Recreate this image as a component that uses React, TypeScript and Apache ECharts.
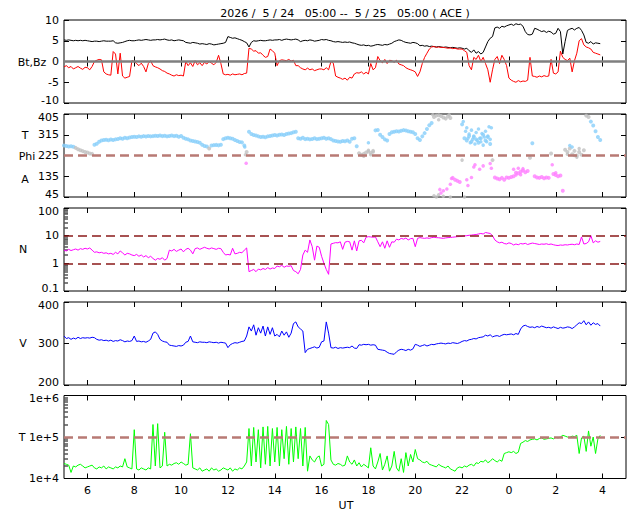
import React, { useEffect, useRef } from 'react';
import * as echarts from 'echarts';

// ---- time base: one sample every 0.1 h starting at 05:00 UT on 5/24 ----
const START_HOUR = 5;
const STEP_HOURS = 0.1;
const xTicks = [6, 8, 10, 12, 14, 16, 18, 20, 22, 24, 26, 28];

const titleText = '2026 /  5 / 24   05:00 --  5 / 25   05:00 ( ACE )';

// ---- Bt (nT) ----
const btValues = [
  5.2, 5.1, 5.2, 5.1, 5.0, 5.1, 5.0, 5.1, 5.0, 5.1,
  5.0, 4.9, 4.8, 4.9, 4.9, 4.8, 4.9, 5.0, 4.9, 4.9,
  4.9, 5.0, 4.5, 4.4, 4.5, 4.6, 4.8, 5.0, 5.1, 5.0,
  5.0, 5.1, 5.2, 5.1, 5.2, 5.3, 5.2, 5.1, 5.2, 5.2,
  5.3, 5.2, 5.3, 5.4, 5.2, 5.1, 5.2, 5.0, 5.1, 5.2,
  5.1, 5.0, 4.6, 4.5, 4.4, 4.6, 4.5, 4.4, 4.2, 4.3,
  4.2, 4.1, 4.3, 4.2, 4.0, 4.1, 4.2, 4.3, 4.4, 4.6,
  6.0, 5.8, 5.6, 5.7, 5.5, 5.3, 5.1, 4.8, 4.5, 3.5,
  4.6, 5.0, 4.9, 5.0, 5.1, 5.0, 5.0, 5.1, 5.2, 5.1,
  5.2, 5.2, 5.3, 5.1, 5.3, 5.4, 5.3, 5.2, 5.3, 5.4,
  5.2, 4.8, 5.0, 5.1, 5.0, 5.2, 5.1, 4.9, 5.0, 5.1,
  5.3, 5.2, 5.3, 5.1, 5.0, 4.8, 4.7, 4.8, 4.7, 4.6,
  4.7, 4.6, 4.7, 4.5, 4.4, 4.2, 4.0, 3.9, 4.0, 3.8,
  3.9, 3.7, 3.8, 4.0, 4.1, 4.0, 3.9, 4.1, 4.0, 4.2,
  4.4, 4.8, 5.0, 5.2, 5.1, 4.8, 4.6, 4.5, 4.4, 4.6,
  4.5, 4.3, 3.8, 3.9, 3.7, 3.8, 3.6, 3.7, 3.6, 3.5,
  3.6, 3.5, 3.4, 3.5, 3.4, 3.3, 3.4, 3.3, 3.2, 3.3,
  3.2, 3.0, 3.2, 2.6, 2.2, 2.8, 2.0, 2.4, 1.8, 2.2,
  3.5, 4.8, 5.6, 6.0, 8.1, 8.3, 8.0, 8.5, 8.3, 8.6,
  8.8, 9.0, 8.7, 9.1, 8.9, 9.0, 8.5, 7.2, 6.5, 6.4,
  6.6, 8.0, 7.8, 7.5, 7.2, 7.4, 7.0, 7.3, 7.1, 6.6,
  6.8, 8.0, 7.2, 1.8, 4.8, 7.5, 7.8, 8.0, 7.6, 8.0,
  8.2, 7.5, 6.4, 4.6, 4.4, 4.8, 4.2, 4.5, 4.4, 4.3,
];

// ---- Bz (nT) ----
const bzValues = [
  -1.3, -1.0, -1.5, -1.2, -1.8, -1.5, -1.2, -1.6, -1.9, -1.4,
  -1.5, -2.0, -1.2, 0.0, 0.3, 0.5, 0.4, -2.5, -3.0, -3.2,
  -3.3, 2.4, 1.8, -3.0, 2.0, -3.5, -4.0, -3.8, -3.6, 0.2,
  0.0, -0.5, -1.0, -0.4, -1.2, -2.5, -0.5, 0.2, -1.0, -1.3,
  -1.5, -1.8, -2.2, -2.4, -2.8, -3.0, -3.3, -3.5, -3.2, -3.4,
  -3.3, -3.5, 0.0, -1.0, -0.3, -1.2, 0.2, -0.8, -0.3, -1.0,
  -0.2, -0.6, 0.0, -0.4, -0.8, -0.2, 1.5, -0.5, -3.0, -3.2,
  -3.1, -3.3, -3.0, -3.2, -3.1, -3.0, -3.2, -2.9, -2.8, 3.2,
  3.0, 2.5, 2.6, 2.0, 2.1, 1.5, 1.0, 1.2, 3.0, 2.6,
  2.0, -1.0, 0.2, 0.4, 0.3, 0.2, 0.5, 0.1, 0.3, -1.0,
  -1.0, -1.5, -1.8, -2.0, -1.6, -2.0, -1.8, -2.2, -2.0, -1.8,
  -1.8, -2.0, -1.5, -2.0, 0.0, -0.4, -3.5, -3.8, -4.0, -4.3,
  -4.0, -4.5, -3.8, -4.0, -3.0, -2.7, -2.8, -2.5, -3.0, -2.6,
  -3.0, -0.5, -2.0, -1.5, 1.2, 0.2, -0.3, 0.5, -0.5, 0.3,
  0.2, -0.2, 0.3, -0.6, -0.8, -1.0, -1.5, -1.8, -2.0, -2.2,
  -2.5, -3.6, -2.5, -0.5, 1.0, 2.0, 3.0, 3.5, 3.6, 3.4,
  3.5, 3.4, 3.4, 3.3, 3.2, 3.3, 3.1, 3.2, 3.0, 3.0,
  3.0, 2.6, 2.2, -1.0, -2.0, 1.0, 0.5, 1.5, 0.0, 1.0,
  -0.5, -2.0, -5.0, -2.0, 0.5, 1.2, -0.5, 1.5, 0.5, -1.0,
  -4.0, -4.5, -4.8, -5.0, -4.6, -4.9, -4.7, -4.8, -4.5, 1.0,
  -3.5, -3.6, -3.8, -3.5, -3.7, -3.4, -3.6, -3.5, 0.5, -2.8,
  -3.0, -2.5, 2.5, 1.0, 0.5, 0.2, 0.8, -2.5, 0.2, 2.0,
  5.0, 5.5, 4.0, 3.5, 3.3, 3.0, 2.2, 2.0, 1.8, 1.6,
];

// ---- Phi (deg), main track ----
const phiValues = [
  268, 266, 264, 265, 263, 258, 252, 248, 244, 240,
  238, 234, 232, 272, 276, 285, 290, 292, 293, 291,
  294, 292, 295, 297, 300, 298, 302, 300, 303, 305,
  306, 305, 308, 306, 309, 307, 310, 308, 309, 311,
  310, 312, 309, 311, 308, 310, 312, 309, 311, 306,
  310, 302, 298, 295, 290, 288, 286, 284, 280, 272,
  266, 264, 255, 268, 270, 271, 269, 272, 296, 300,
  302, 300, 298, 292, 288, 284, 282, 268, 240, 328,
  318, 314, 312, 308, 305, 306, 304, 308, 310, 312,
  314, 312, 315, 316, 314, 318, 320, 322, 326, 328,
  300, 298, 302, 296, 298, 295, 297, 300, 296, 298,
  300, 302, 298, 300, 296, 290, 288, 286, 285, 288,
  287, 290, 285, 298, 300, 265, 235, 228, 232, 238,
  242, 236, 245, 334, 336, 315, 305, 295, 290, 318,
  326, 328, 330, 329, 332, 335, 333, 330, 328, 326,
  318, 300, 292, 308, 322, 340, 356, 366, 392, 398,
  400, 396, 390, 385, 395, 388, 128, 120, 115, 110,
  360, 300, 290, 310, 285, 305, 295, 280, 300, 315,
  290, 305, 275, 205, 130, 125, 122, 128, 120, 130,
  128, 132, 135, 150, 148, 155, 160, 152, 158, 215,
  278, 135, 130, 128, 132, 126, 130, 128, 234, 145,
  140, 135, 138, 72, 250, 240, 255, 230, 245, 225,
  240, 228, 248, 398, 392, 372, 355, 330, 305, 292,
];

// ---- Phi (deg), scattered extra samples [hour, deg] ----
const phiExtra = [
  [12.72, 262], [12.75, 228], [12.78, 191],
  [17.8, 222], [18.0, 248], [18.1, 228], [18.2, 240], [18.0, 280],
  [20.75, 402], [21.0, 380], [21.45, 402],
  [20.8, 50], [20.9, 45], [21.0, 55], [21.1, 62], [21.2, 48], [21.3, 40], [21.5, 45], [22.1, 45],
  [21.05, 78], [21.2, 72], [21.35, 80], [21.5, 100], [21.55, 125],
  [22.05, 372], [22.15, 330], [22.2, 345], [22.25, 300], [22.3, 318], [22.35, 280], [22.4, 335],
  [22.45, 295], [22.5, 310], [22.55, 275], [22.6, 325], [22.65, 290], [22.7, 340], [22.75, 300],
  [22.8, 285], [22.85, 320], [22.9, 270], [22.95, 305], [23.0, 330], [23.05, 285], [23.1, 310],
  [23.15, 350], [23.2, 295], [23.25, 345],
  [22.2, 120], [22.25, 95], [22.4, 130], [22.5, 175], [22.55, 185], [22.75, 165], [22.9, 180],
  [23.2, 190], [23.25, 170], [22.0, 205],
  [24.2, 165], [24.3, 140], [24.4, 170], [24.5, 142], [24.6, 168],
  [25.85, 185], [26.0, 150], [26.6, 268],
  [26.5, 230], [26.7, 262], [26.8, 225], [26.9, 218], [27.0, 255], [27.35, 44],
];

// ---- N (p/cc) ----
const nValues = [
  3.0, 2.8, 3.2, 2.9, 3.1, 3.3, 3.0, 3.4, 3.2, 3.5,
  3.3, 3.6, 3.0, 2.5, 2.6, 2.4, 2.5, 2.3, 2.4, 2.2,
  2.3, 2.1, 2.5, 2.2, 2.8, 2.4, 2.0, 2.3, 2.2, 2.0,
  1.9, 2.1, 1.8, 2.0, 1.7, 1.9, 1.6, 1.8, 1.5, 1.3,
  1.5, 1.4, 1.6, 1.3, 1.5, 3.0, 2.8, 3.2, 2.7, 3.0,
  3.3, 2.6, 3.2, 3.5, 3.0, 2.2, 3.4, 3.6, 3.2, 3.5,
  3.8, 3.5, 3.3, 3.6, 3.4, 3.2, 3.5, 3.4, 2.5, 2.0,
  2.1, 2.0, 3.5, 2.2, 2.3, 2.5, 2.4, 3.0, 3.6, 0.5,
  0.55, 0.6, 0.5, 0.62, 0.58, 0.65, 0.6, 0.7, 0.62, 0.68,
  0.65, 0.8, 0.75, 0.85, 0.72, 0.8, 0.78, 0.82, 0.55, 0.5,
  0.42, 0.6, 2.0, 3.0, 2.5, 7.0, 4.0, 1.3, 4.2, 3.8,
  1.8, 1.0, 0.6, 0.4, 5.0, 5.3, 5.6, 5.5, 6.0, 3.2,
  5.8, 6.2, 6.0, 3.0, 6.5, 2.8, 6.5, 6.8, 5.5, 8.8,
  9.2, 9.0, 8.8, 9.0, 6.0, 4.0, 6.0, 3.5, 6.5, 3.8,
  6.0, 5.8, 7.5, 7.0, 8.0, 7.5, 8.2, 7.0, 7.8, 8.0,
  4.0, 8.0, 8.5, 8.2, 8.0, 8.3, 8.0, 8.5, 8.8, 8.5,
  8.4, 8.2, 8.0, 8.3, 8.5, 8.6, 8.8, 9.0, 9.2, 9.3,
  9.5, 9.8, 10.0, 10.3, 10.5, 10.8, 11.0, 11.5, 12.0, 11.5,
  13.0, 12.5, 12.0, 10.0, 7.0, 6.0, 5.5, 5.8, 5.2, 5.0,
  5.5, 5.2, 4.6, 5.0, 4.7, 5.2, 5.0, 5.3, 4.8, 5.1,
  5.4, 5.2, 5.0, 4.8, 5.0, 4.9, 5.1, 4.8, 5.0, 4.7,
  4.5, 4.4, 4.6, 4.5, 4.7, 4.6, 4.8, 4.9, 4.7, 5.0,
  4.8, 9.0, 5.0, 5.2, 6.0, 10.0, 5.5, 6.5, 5.8, 6.2,
];

// ---- V (km/s) ----
const vValues = [
  318, 312, 314, 310, 313, 311, 315, 312, 314, 313,
  314, 313, 315, 314, 310, 308, 309, 307, 308, 306,
  308, 305, 307, 306, 309, 307, 304, 306, 305, 307,
  318, 305, 306, 304, 305, 303, 306, 310, 325, 328,
  322, 310, 306, 304, 303, 296, 295, 294, 293, 295,
  294, 296, 303, 305, 318, 304, 303, 302, 304, 303,
  303, 302, 304, 303, 302, 303, 301, 303, 302, 301,
  290, 297, 300, 302, 301, 303, 305, 306, 318, 340,
  330, 345, 320, 338, 325, 342, 318, 340, 322, 338,
  318, 322, 316, 330, 320, 328, 315, 325, 348, 352,
  340, 335, 330, 278, 286, 288, 290, 292, 289, 291,
  304, 306, 352, 325, 290, 289, 291, 288, 290, 289,
  290, 291, 290, 294, 289, 288, 297, 296, 298, 297,
  298, 296, 297, 296, 286, 285, 284, 283, 279, 276,
  275, 274, 280, 284, 286, 285, 283, 286, 284, 287,
  298, 296, 293, 295, 297, 294, 296, 298, 297, 299,
  300, 301, 300, 299, 301, 300, 302, 301, 300, 302,
  305, 307, 306, 309, 310, 312, 311, 314, 315, 316,
  320, 318, 321, 316, 318, 319, 317, 320, 322, 321,
  322, 323, 321, 324, 322, 335, 342, 344, 341, 339,
  340, 338, 341, 339, 342, 340, 338, 339, 337, 340,
  338, 336, 339, 337, 338, 340, 339, 336, 340, 345,
  350, 348, 355, 345, 352, 344, 350, 346, 348, 342,
];

// ---- T (K) ----
const tValues = [
  23000, 22000, 21000, 14000, 20000, 19000, 21000, 22000, 20000, 18000,
  19000, 20000, 21000, 18000, 17000, 19000, 18000, 20000, 17000, 19000,
  18000, 17000, 19000, 18000, 20000, 19000, 30000, 19000, 18000, 17000,
  150000, 17000, 16000, 18000, 17000, 16000, 18000, 17000, 200000, 20000,
  210000, 18000, 20000, 130000, 20000, 22000, 21000, 23000, 24000, 22000,
  25000, 23000, 21000, 22000, 120000, 18000, 17000, 16000, 18000, 15000,
  16000, 17000, 15000, 18000, 16000, 17000, 15000, 16000, 18000, 17000,
  16000, 18000, 15000, 17000, 16000, 18000, 17000, 20000, 25000, 160000,
  20000, 170000, 25000, 150000, 18000, 175000, 22000, 180000, 20000, 160000,
  25000, 170000, 20000, 150000, 30000, 180000, 22000, 160000, 25000, 175000,
  30000, 160000, 20000, 170000, 15000, 35000, 28000, 25000, 32000, 35000,
  20000, 22000, 250000, 200000, 28000, 22000, 21000, 23000, 22000, 20000,
  21000, 35000, 25000, 22000, 28000, 20000, 24000, 19000, 22000, 20000,
  18000, 55000, 20000, 17000, 25000, 40000, 16000, 22000, 35000, 15000,
  20000, 45000, 18000, 15000, 30000, 14000, 42000, 20000, 38000, 25000,
  50000, 30000, 28000, 25000, 24000, 26000, 22000, 21000, 20000, 19000,
  22000, 20000, 19000, 18000, 20000, 17000, 16000, 15000, 18000, 19000,
  18000, 20000, 19000, 21000, 22000, 20000, 24000, 23000, 26000, 25000,
  28000, 24000, 26000, 30000, 27000, 25000, 28000, 26000, 40000, 42000,
  44000, 42000, 45000, 40000, 43000, 70000, 75000, 82000, 78000, 85000,
  88000, 90000, 85000, 92000, 95000, 88000, 90000, 93000, 95000, 90000,
  98000, 95000, 100000, 110000, 105000, 100000, 98000, 105000, 102000, 110000,
  40000, 95000, 105000, 45000, 140000, 60000, 100000, 40000, 90000, 110000,
];

// ---- axis tick values ----
const phiTicks = [45, 135, 225, 315, 405];
const nMinorTicks = [0.2, 0.3, 0.4, 0.5, 0.6, 0.7, 0.8, 0.9, 2, 3, 4, 5, 6, 7, 8, 9, 20, 30, 40, 50, 60, 70, 80, 90];
const tMinorTicks = [20000, 30000, 40000, 50000, 60000, 70000, 80000, 90000, 200000, 300000, 400000, 500000, 600000, 700000, 800000, 900000];

const FONT = 'DejaVu Sans';
const GRID_TOPS = [20, 114, 208, 302, 395.5];
const GRID_H = 83;

const hourOf = (i: number) => Math.round((START_HOUR + i * STEP_HOURS) * 10) / 10;
const toPairs = (vals: (number | null)[]) => vals.map((v, i) => [hourOf(i), v]);

function buildOption(): any {
  const grids = GRID_TOPS.map((top) => ({
    left: 64, right: 14, top, height: GRID_H,
    show: true, borderColor: '#000', borderWidth: 1, backgroundColor: 'transparent',
  }));

  const xBase = (gi: number, pos: 'bottom' | 'top', labels: boolean) => ({
    gridIndex: gi, type: 'value', position: pos, min: 5, max: 29,
    axisLine: { show: false },
    splitLine: { show: false },
    axisTick: { show: true, inside: true, length: 5, customValues: xTicks, lineStyle: { color: '#000', width: 1 } },
    axisLabel: {
      show: labels, customValues: xTicks, margin: 6, color: '#000', fontFamily: FONT, fontSize: 11,
      formatter: (v: number) => String(v % 24),
    },
  });
  const xAxes: any[] = [];
  for (let i = 0; i < 5; i++) xAxes.push(xBase(i, 'bottom', i === 4));
  for (let i = 0; i < 5; i++) xAxes.push(xBase(i, 'top', false));

  const baseText = { color: '#000', fontFamily: FONT, fontSize: 11 };
  // labels at shared panel edges are nudged apart a little so they do not collide
  const rich = {
    lo: { ...baseText, padding: [0, 0, 6, 0] },
    hi: { ...baseText, padding: [6, 0, 0, 0] },
  };
  const labelStyle = { ...baseText, margin: 5, rich };
  const tickStyle = { show: true, inside: true, length: 5, lineStyle: { color: '#000', width: 1 } };

  const wrap = (s: string, v: number, d: any) => {
    if (v === d.min && d.nudgeMin) return `{lo|${s}}`;
    if (v === d.max && d.nudgeMax) return `{hi|${s}}`;
    return s;
  };

  const yDefs: any[] = [
    { type: 'value', min: -10, max: 10, interval: 5, nudgeMin: true, nudgeMax: false, fmt: (v: number) => String(v) },
    { type: 'value', min: 45, max: 405, ticks: phiTicks, nudgeMin: true, nudgeMax: true, fmt: (v: number) => String(v) },
    { type: 'log', logBase: 10, min: 0.1, max: 100, nudgeMin: true, nudgeMax: true, fmt: (v: number) => (v < 1 ? String(v) : String(Math.round(v))) },
    { type: 'value', min: 200, max: 400, interval: 100, nudgeMin: true, nudgeMax: true, fmt: (v: number) => String(v) },
    { type: 'log', logBase: 10, min: 10000, max: 1000000, nudgeMin: false, nudgeMax: true, fmt: (v: number) => '1e+' + Math.round(Math.log10(v)) },
  ];

  const mkY = (gi: number, pos: 'left' | 'right', labels: boolean) => {
    const d = yDefs[gi];
    const ax: any = {
      gridIndex: gi, type: d.type, position: pos, min: d.min, max: d.max,
      axisLine: { show: false }, splitLine: { show: false },
      axisTick: { ...tickStyle },
      axisLabel: { ...labelStyle, show: labels, formatter: (v: number) => wrap(d.fmt(v), v, d) },
    };
    if (d.logBase) ax.logBase = d.logBase;
    if (d.interval) ax.interval = d.interval;
    if (d.ticks) {
      ax.axisTick.customValues = d.ticks;
      ax.axisLabel.customValues = d.ticks;
    }
    return ax;
  };
  const yAxes: any[] = [];
  for (let i = 0; i < 5; i++) yAxes.push(mkY(i, 'left', true)); // 0..4
  for (let i = 0; i < 5; i++) yAxes.push(mkY(i, 'right', false)); // 5..9
  const minorAxis = (gi: number, vals: number[]) => ({
    gridIndex: gi, type: 'log', logBase: 10, position: 'left', min: yDefs[gi].min, max: yDefs[gi].max,
    axisLine: { show: false }, splitLine: { show: false }, axisLabel: { show: false },
    axisTick: { show: true, inside: true, length: 4, customValues: vals, lineStyle: { color: '#555', width: 1.5 } },
  });
  yAxes.push(minorAxis(2, nMinorTicks)); // 10
  yAxes.push(minorAxis(4, tMinorTicks)); // 11

  const line = (gi: number, data: any[], color: string, extra: any = {}) => ({
    type: 'line', xAxisIndex: gi, yAxisIndex: gi, data, showSymbol: false, symbol: 'none',
    lineStyle: { color, width: 1 }, itemStyle: { color }, silent: true, animation: false, ...extra,
  });
  const markLine = (vals: number[], color: string, width: number, type: any) => ({
    silent: true, symbol: ['none', 'none'], label: { show: false }, animation: false,
    lineStyle: { color, width, type },
    data: vals.map((v) => ({ yAxis: v })),
  });

  const phiMain = toPairs(phiValues).filter((p) => p[1] != null);

  const series: any[] = [
    line(0, toPairs(btValues), '#000000', { markLine: markLine([0], '#7f7f7f', 2.5, 'solid') }),
    line(0, toPairs(bzValues), '#ff0000'),
    {
      type: 'scatter', xAxisIndex: 1, yAxisIndex: 1, data: phiMain, symbol: 'circle', symbolSize: 4,
      silent: true, animation: false,
      markLine: markLine([225], '#b87a74', 2.5, [9, 5]),
    },
    {
      type: 'scatter', xAxisIndex: 1, yAxisIndex: 1, data: phiExtra, symbol: 'circle', symbolSize: 3.5,
      silent: true, animation: false,
    },
    line(2, toPairs(nValues), '#ff00ff', { markLine: markLine([1, 10], '#8b1a1a', 1.5, [9, 5]) }),
    line(3, toPairs(vValues), '#0000ff'),
    line(4, toPairs(tValues), '#00ff00', { markLine: markLine([100000], '#b87a74', 2.5, [9, 5]) }),
  ];

  const txt = (text: string, x: number, y: number, align = 'center') => ({
    type: 'text', x, y, silent: true,
    style: { text, fill: '#000', font: `11px "${FONT}"`, textAlign: align, textVerticalAlign: 'middle' },
  });

  return {
    animation: false,
    backgroundColor: '#ffffff',
    grid: grids,
    xAxis: xAxes,
    yAxis: yAxes,
    visualMap: {
      type: 'piecewise', show: false, seriesIndex: [2, 3], dimension: 1,
      pieces: [
        { gte: 380, color: '#c0c0c0' },
        { gte: 262, lt: 380, color: '#87cefa' },
        { gte: 205, lt: 262, color: '#c0c0c0' },
        { gte: 60, lt: 205, color: '#ff80ff' },
        { lt: 60, color: '#c0c0c0' },
      ],
    },
    series,
    graphic: [
      txt(titleText, 345, 13),
      txt('Bt,Bz', 32, 62),
      txt('T', 25, 135),
      txt('Phi', 27, 156),
      txt('A', 25, 179),
      txt('N', 23, 249),
      txt('V', 23, 343),
      txt('T', 22, 437),
      txt('UT', 346, 505),
    ],
  };
}

export default function App() {
  const ref = useRef<HTMLDivElement>(null);
  useEffect(() => {
    if (!ref.current) return;
    const chart = echarts.init(ref.current, null, { renderer: 'svg' });
    chart.setOption(buildOption());
    return () => chart.dispose();
  }, []);
  return (
    <div
      ref={ref}
      style={{ position: 'fixed', left: 0, top: 0, width: 640, height: 512, background: '#fff' }}
    />
  );
}
